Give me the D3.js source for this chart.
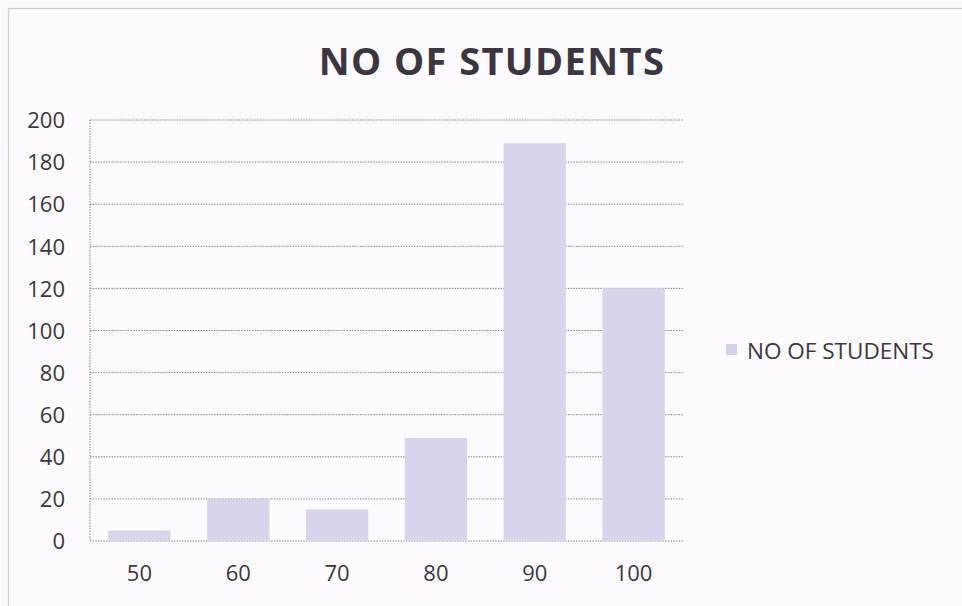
<!DOCTYPE html>
<html><head><meta charset="utf-8">
<script src="https://cdn.jsdelivr.net/npm/d3@7"></script>
<style>
body{margin:0;background:#fbf9fc;}
svg{display:block;}
text{font-family:"Open Sans",Lato,sans-serif;fill:#3b3640;}
</style></head><body>
<svg id="c" width="962" height="606"></svg>
<script>
const categories = ["50","60","70","80","90","100"];
const values = [5, 20, 15, 49, 189, 120];
const yTicks = [0,20,40,60,80,100,120,140,160,180,200];
const seriesName = "NO OF STUDENTS";
const title = "NO OF STUDENTS";

const svg = d3.select("#c");
const m = {l:90, r:683, t:120, b:541};

svg.append("rect").attr("x",8.5).attr("y",8.5).attr("width",960).attr("height",600)
  .attr("fill","#fdfbfe").attr("stroke","#cfcad4").attr("stroke-width",1.2);

const x = d3.scaleBand().domain(categories).range([m.l,m.r]).paddingInner(0.37).paddingOuter(0.185);
const y = d3.scaleLinear().domain([0,200]).range([m.b,m.t]);

// gridlines
svg.append("g").selectAll("line").data(yTicks).join("line")
  .attr("x1",m.l).attr("x2",m.r).attr("y1",d=>y(d)).attr("y2",d=>y(d))
  .attr("stroke","#8a8490").attr("stroke-width",1).attr("stroke-dasharray","1.5,1.2");
svg.append("line").attr("x1",m.l).attr("x2",m.l).attr("y1",m.t).attr("y2",m.b)
  .attr("stroke","#8a8490").attr("stroke-dasharray","1.5,1.2");

// bars
svg.append("g").selectAll("rect").data(values).join("rect")
  .attr("x",(d,i)=>x(categories[i])).attr("width",x.bandwidth())
  .attr("y",d=>y(d)).attr("height",d=>y(0)-y(d))
  .attr("fill","#dad3ea");

// y axis labels
const yAxis = d3.axisLeft(y).tickValues(yTicks).tickSize(0).tickPadding(25);
const gy = svg.append("g").attr("transform",`translate(${m.l},0)`).call(yAxis);
gy.select(".domain").remove();
gy.selectAll("text").style("font-size","22px").attr("fill","#3b3640").attr("dy","0.35em");

// x axis labels
const xAxis = d3.axisBottom(x).tickSize(0).tickPadding(24);
const gx = svg.append("g").attr("transform",`translate(0,${m.b})`).call(xAxis);
gx.select(".domain").remove();
gx.selectAll("text").style("font-size","22px").attr("fill","#3b3640");

// title
svg.append("text").attr("x",492).attr("y",75).attr("text-anchor","middle")
  .style("font-size","38px").style("font-weight","bold").style("letter-spacing","1.4px")
  .attr("fill","#2e2a33").text(title);

// legend
svg.append("rect").attr("x",726).attr("y",344).attr("width",11).attr("height",11).attr("fill","#d6cfe6");
svg.append("text").attr("x",747).attr("y",359).style("font-size","22.5px").text(seriesName);
</script>
</body></html>
